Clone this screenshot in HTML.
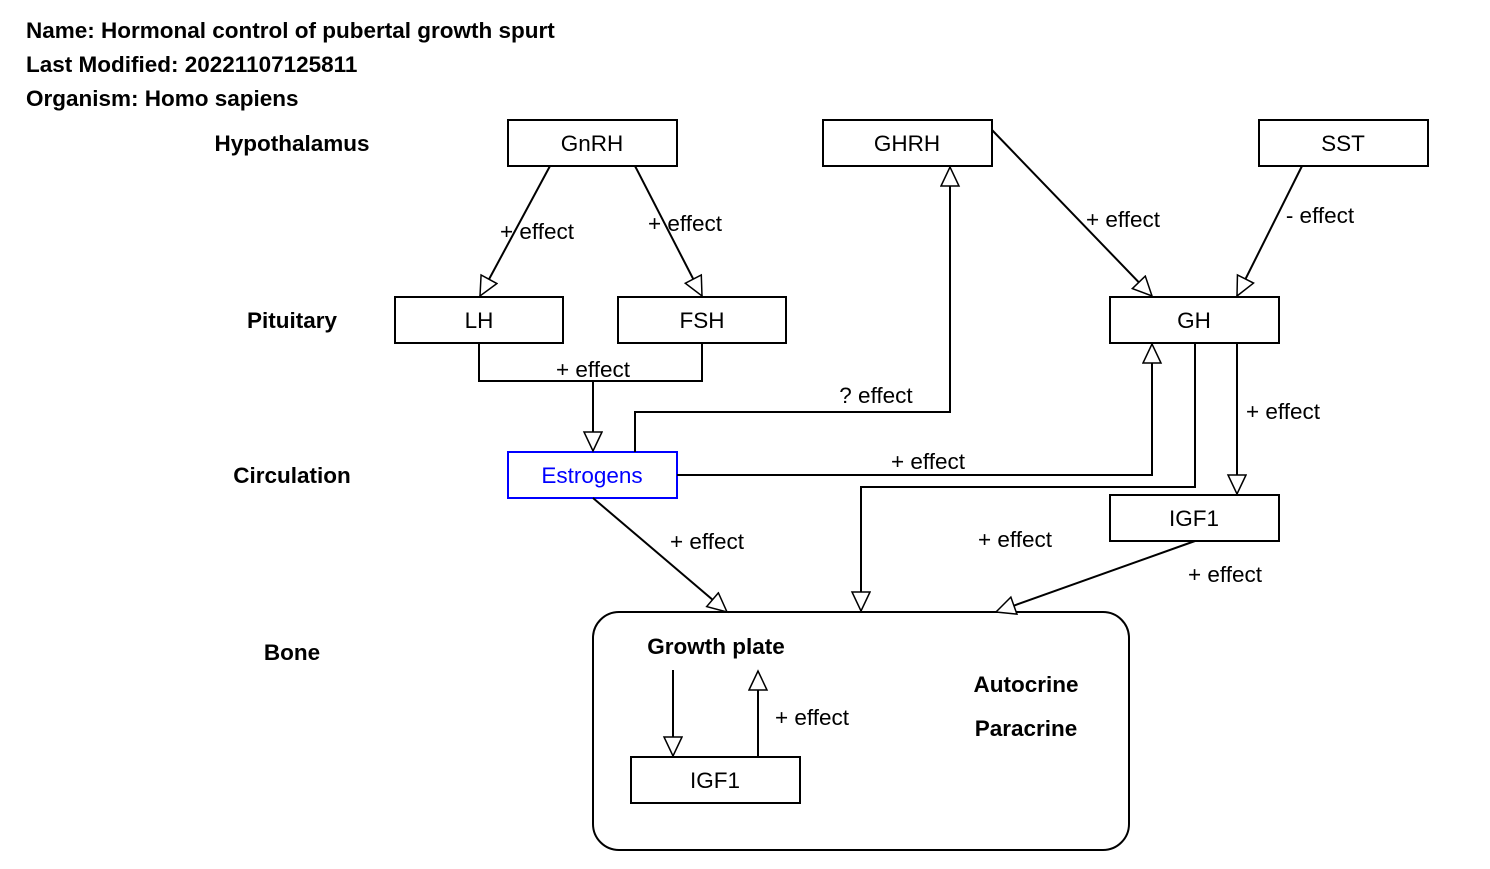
<!DOCTYPE html>
<html><head><meta charset="utf-8"><style>
html,body{margin:0;padding:0;background:#fff}
svg{display:block}
text{font-family:"Liberation Sans",sans-serif;font-size:22.5px;fill:#000}
.b{font-weight:bold}
</style></head><body>
<svg width="1490" height="869" viewBox="0 0 1490 869" xmlns="http://www.w3.org/2000/svg">
<defs>
<marker id="a" markerUnits="userSpaceOnUse" markerWidth="24" markerHeight="22" refX="20" refY="10" orient="auto">
<path d="M1,1 L20,10 L1,19 Z" fill="#fff" stroke="#000" stroke-width="1.5"/>
</marker>
</defs>
<text x="26" y="38" class="b">Name: Hormonal control of pubertal growth spurt</text>
<text x="26" y="72" class="b">Last Modified: 20221107125811</text>
<text x="26" y="106" class="b">Organism: Homo sapiens</text>
<g text-anchor="middle">
<text x="292" y="151" class="b">Hypothalamus</text>
<text x="292" y="328" class="b">Pituitary</text>
<text x="292" y="483" class="b">Circulation</text>
<text x="292" y="660" class="b">Bone</text>
</g>
<g fill="#fff" stroke="#000" stroke-width="2">
<rect x="508" y="120" width="169" height="46"/>
<rect x="823" y="120" width="169" height="46"/>
<rect x="1259" y="120" width="169" height="46"/>
<rect x="395" y="297" width="168" height="46"/>
<rect x="618" y="297" width="168" height="46"/>
<rect x="1110" y="297" width="169" height="46"/>
<rect x="508" y="452" width="169" height="46" stroke="#00f"/>
<rect x="1110" y="495" width="169" height="46"/>
<rect x="593" y="612" width="536" height="238" rx="26"/>
<rect x="631" y="757" width="169" height="46"/>
</g>
<g text-anchor="middle">
<text x="592" y="151">GnRH</text>
<text x="907" y="151">GHRH</text>
<text x="1343" y="151">SST</text>
<text x="479" y="328">LH</text>
<text x="702" y="328">FSH</text>
<text x="1194" y="328">GH</text>
<text x="592" y="483" style="fill:#00f">Estrogens</text>
<text x="1194" y="526">IGF1</text>
<text x="715" y="788">IGF1</text>
<text x="716" y="654" class="b">Growth plate</text>
<text x="1026" y="692" class="b">Autocrine</text>
<text x="1026" y="736" class="b">Paracrine</text>
</g>
<g fill="none" stroke="#000" stroke-width="2">
<path d="M550,166 L480,296" marker-end="url(#a)"/>
<path d="M635,166 L702,296" marker-end="url(#a)"/>
<path d="M479,343 V381 H702 V343"/>
<path d="M593,381 V451" marker-end="url(#a)"/>
<path d="M635,452 V412 H950 V167" marker-end="url(#a)"/>
<path d="M992,130 L1152,296" marker-end="url(#a)"/>
<path d="M1302,166 L1237,296" marker-end="url(#a)"/>
<path d="M677,475 H1152 V344" marker-end="url(#a)"/>
<path d="M1195,343 V487 H861 V611" marker-end="url(#a)"/>
<path d="M1237,343 V494" marker-end="url(#a)"/>
<path d="M1195,541 L996,612" marker-end="url(#a)"/>
<path d="M593,498 L727,612" marker-end="url(#a)"/>
<path d="M673,670 V756" marker-end="url(#a)"/>
<path d="M758,757 V671" marker-end="url(#a)"/>
</g>
<g text-anchor="middle">
<text x="537" y="239">+ effect</text>
<text x="685" y="231">+ effect</text>
<text x="593" y="377">+ effect</text>
<text x="876" y="403">? effect</text>
<text x="1123" y="227">+ effect</text>
<text x="1320" y="223">- effect</text>
<text x="928" y="469">+ effect</text>
<text x="1015" y="547">+ effect</text>
<text x="1283" y="419">+ effect</text>
<text x="1225" y="582">+ effect</text>
<text x="707" y="549">+ effect</text>
<text x="812" y="725">+ effect</text>
</g>
</svg>
</body></html>
